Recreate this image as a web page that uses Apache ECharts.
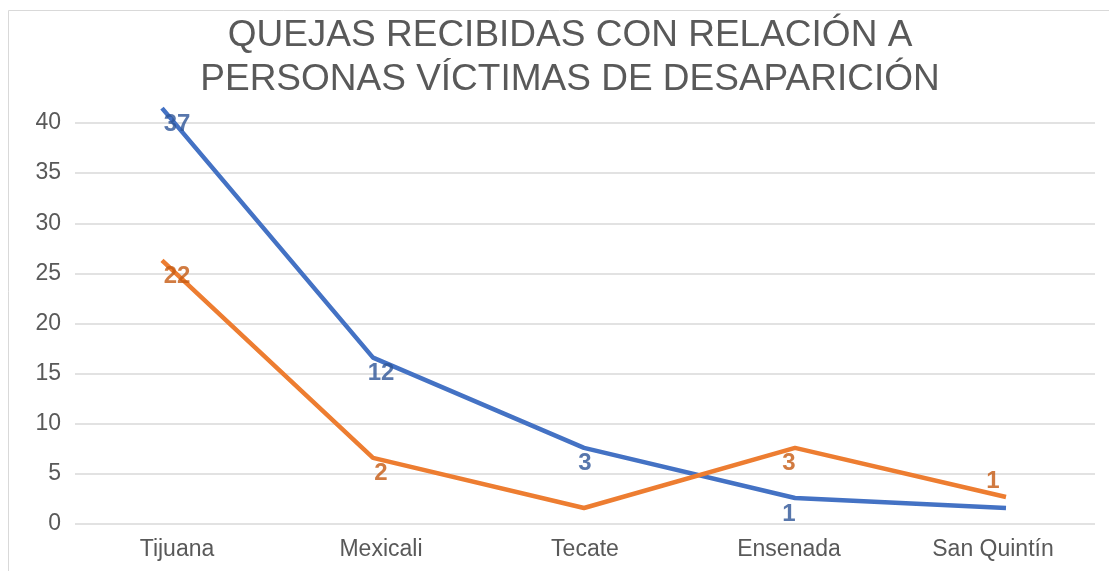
<!DOCTYPE html>
<html>
<head>
<meta charset="utf-8">
<script src="https://cdn.jsdelivr.net/npm/echarts@6/dist/echarts.min.js"></script>
<style>
  html, body { margin: 0; padding: 0; background: #fff; }
  #chart { width: 1109px; height: 571px; }
</style>
</head>
<body>
<div id="chart"></div>
<script>
// categorias
const municipios = ["Tijuana", "Mexicali", "Tecate", "Ensenada", "San Quintín"];
// posicion de las lineas
const serieAzul = [41.5, 16.6, 7.6, 2.6, 1.6];
const serieNaranja = [26.3, 6.6, 1.6, 7.6, 2.7];
// etiquetas de datos tal como aparecen
const etiquetasAzul = ["37", "12", "3", "1", ""];
const etiquetasNaranja = ["22", "2", "", "3", "1"];
const ticksY = [0, 5, 10, 15, 20, 25, 30, 35, 40];

let chart = echarts.init(document.getElementById("chart"));

function etiquetas(valores, textos, color, arriba) {
  return valores.map(function (v, i) {
    return {
      value: v,
      label: {
        show: textos[i] !== "",
        formatter: textos[i],
        position: arriba[i] ? "top" : "bottom",
        distance: 4,
        color: color,
        fontSize: 24,
        fontWeight: "bold",
        fontFamily: "Liberation Sans"
      }
    };
  });
}

// la escala de 0 a 45 ocupa de y=73 a y=524 (misma escala que 0-40)
chart.setOption({
  animation: false,
  title: {
    text: "QUEJAS RECIBIDAS CON RELACIÓN A\nPERSONAS VÍCTIMAS DE DESAPARICIÓN",
    left: 565,
    textAlign: "center",
    top: 9,
    textStyle: {
      fontSize: 37,
      lineHeight: 44,
      fontWeight: "normal",
      color: "#595959",
      fontFamily: "Liberation Sans"
    }
  },
  graphic: [{
    type: "rect",
    shape: { x: 8.5, y: 10.5, width: 1200, height: 700 },
    style: { fill: "none", stroke: "#d9d9d9", lineWidth: 1 },
    silent: true
  }],
  grid: [
    { left: 75, right: 14, top: 123, bottom: 47 },
    { left: 162, right: 103, top: 73, bottom: 47 },
    { left: 75, right: 14, top: 73, bottom: 47 }
  ],
  xAxis: [{
    type: "category",
    gridIndex: 0,
    data: municipios,
    axisLine: { show: false },
    axisTick: { show: false },
    axisLabel: { color: "#595959", fontSize: 23, margin: 14, fontFamily: "Liberation Sans" }
  }, {
    type: "category",
    gridIndex: 1,
    data: municipios,
    boundaryGap: false,
    show: false
  }, {
    type: "category",
    gridIndex: 2,
    data: municipios,
    show: false
  }],
  yAxis: [{
    type: "value",
    gridIndex: 0,
    min: ticksY[0],
    max: ticksY[ticksY.length - 1],
    interval: 5,
    axisLine: { show: false },
    axisTick: { show: false },
    axisLabel: { color: "#595959", fontSize: 23, margin: 14, fontFamily: "Liberation Sans" },
    splitLine: { lineStyle: { color: "#d9d9d9", width: 1.5 } }
  }, {
    type: "value",
    gridIndex: 1,
    min: 0,
    max: 45,
    show: false,
    splitLine: { show: false }
  }, {
    type: "value",
    gridIndex: 2,
    min: 0,
    max: 45,
    show: false,
    splitLine: { show: false }
  }],
  series: [{
    name: "azul",
    type: "line",
    xAxisIndex: 1,
    yAxisIndex: 1,
    data: serieAzul,
    symbol: "none",
    lineStyle: { color: "#4472C4", width: 4.5 },
    z: 3
  }, {
    name: "naranja",
    type: "line",
    xAxisIndex: 1,
    yAxisIndex: 1,
    data: serieNaranja,
    symbol: "none",
    lineStyle: { color: "#ED7D31", width: 4.5 },
    z: 4
  }, {
    type: "scatter",
    xAxisIndex: 2,
    yAxisIndex: 2,
    symbolSize: 0,
    data: etiquetas(serieAzul, etiquetasAzul, "#2E5597", [false, false, false, false, false]),
    z: 5
  }, {
    type: "scatter",
    xAxisIndex: 2,
    yAxisIndex: 2,
    symbolSize: 0,
    data: etiquetas(serieNaranja, etiquetasNaranja, "#C55A11", [false, false, false, false, true]),
    z: 5
  }]
});
</script>
</body>
</html>
